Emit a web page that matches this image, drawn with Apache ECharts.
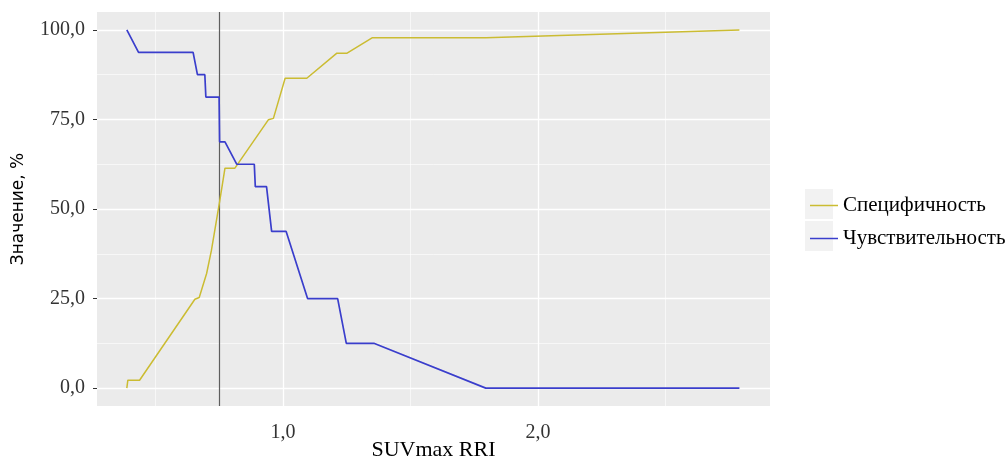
<!DOCTYPE html>
<html>
<head>
<meta charset="utf-8">
<script src="https://cdn.jsdelivr.net/npm/echarts@6/dist/echarts.min.js"></script>
<style>
  html, body { margin: 0; padding: 0; background: #ffffff; }
  #chart { width: 1008px; height: 459px; }
</style>
</head>
<body>
<div id="chart"></div>
<script>
// Threshold (SUVmax RRI) and sensitivity / specificity, %
const sensX = [0.387, 0.433, 0.647, 0.664, 0.693, 0.697, 0.749, 0.751, 0.772, 0.818, 0.887, 0.891, 0.935, 0.955, 1.012, 1.096, 1.214, 1.248, 1.356, 1.795, 2.79];
const sensY = [100, 93.75, 93.75, 87.5, 87.5, 81.25, 81.25, 68.75, 68.75, 62.5, 62.5, 56.25, 56.25, 43.75, 43.75, 25, 25, 12.5, 12.5, 0, 0];

const specX = [0.387, 0.391, 0.437, 0.654, 0.671, 0.700, 0.719, 0.752, 0.772, 0.811, 0.942, 0.962, 1.008, 1.093, 1.211, 1.251, 1.349, 1.795, 2.79];
const specY = [0, 2.2, 2.2, 24.8, 25.3, 32, 38.5, 52.5, 61.4, 61.4, 74.9, 75.3, 86.5, 86.5, 93.5, 93.5, 97.8, 97.8, 100];

const cutoff = 0.75;

const xTicks = [1, 2];
const xMinorGrid = [0.5, 1.5, 2.5];
const yTicks = [0, 25, 50, 75, 100];
const yMinorGrid = [12.5, 37.5, 62.5, 87.5];

const seriesNames = ['Специфичность', 'Чувствительность'];
const colors = ['#CBBC32', '#3A3ECC'];

const fmt = v => v.toFixed(1).replace('.', ',');
const pairs = (xs, ys) => xs.map((x, i) => [x, ys[i]]);

const serif = '"Liberation Serif", "DejaVu Serif", serif';

const gridLines = [].concat(
  xTicks.map(v => ({ xAxis: v, lineStyle: { width: 1.3 } })),
  xMinorGrid.map(v => ({ xAxis: v, lineStyle: { width: 0.6 } })),
  yTicks.map(v => ({ yAxis: v, lineStyle: { width: 1.3 } })),
  yMinorGrid.map(v => ({ yAxis: v, lineStyle: { width: 0.6 } }))
);

const chart = echarts.init(document.getElementById('chart'), null, { renderer: 'canvas' });
chart.setOption({
  animation: false,
  backgroundColor: '#ffffff',
  grid: {
    left: 97, right: 238, top: 12, bottom: 53,
    outerBoundsMode: 'none', containLabel: false,
    show: true, backgroundColor: '#EBEBEB', borderWidth: 0
  },
  xAxis: {
    type: 'value', min: 0.27, max: 2.91,
    name: 'SUVmax RRI', nameLocation: 'middle', nameGap: 33, nameMoveOverlap: false,
    nameTextStyle: { fontFamily: serif, fontSize: 22, color: '#000' },
    axisLine: { show: false },
    axisTick: { show: true, customValues: xTicks, length: 4, lineStyle: { color: '#333', width: 1 } },
    axisLabel: { customValues: xTicks, formatter: fmt, margin: 17, fontFamily: serif, fontSize: 20, color: '#333' },
    splitLine: { show: false }
  },
  yAxis: {
    type: 'value', min: -5, max: 105,
    name: 'Значение, %', nameLocation: 'middle', nameGap: 70, nameRotate: 90, nameMoveOverlap: false,
    nameTextStyle: { fontFamily: '"DejaVu Sans", sans-serif', fontSize: 17, color: '#000' },
    axisLine: { show: false },
    axisTick: { show: true, customValues: yTicks, length: 4, lineStyle: { color: '#333', width: 1 } },
    axisLabel: { customValues: yTicks, formatter: fmt, margin: 12, fontFamily: serif, fontSize: 20, color: '#333' },
    splitLine: { show: false }
  },
  legend: {
    orient: 'vertical', left: 805, top: 190,
    itemWidth: 28, itemHeight: 14, itemGap: 12,
    textStyle: { fontFamily: serif, fontSize: 21, color: '#000' },
    data: seriesNames.map((n, i) => ({
      name: n,
      icon: 'path://M0,0 L28,0 L28,1.5 L0,1.5 Z',
      itemStyle: { color: colors[i], borderWidth: 0 }
    }))
  },
  graphic: [
    { type: 'rect', left: 805, top: 189, shape: { width: 28, height: 30 }, style: { fill: '#F2F2F2' }, z: -1 },
    { type: 'rect', left: 805, top: 221, shape: { width: 28, height: 30 }, style: { fill: '#F2F2F2' }, z: -1 }
  ],
  series: [
    {
      type: 'line', name: 'grid', data: [], z: 1, silent: true,
      markLine: {
        silent: true, symbol: 'none', label: { show: false },
        lineStyle: { color: '#ffffff', type: 'solid' },
        data: gridLines
      }
    },
    {
      type: 'line', name: seriesNames[0], data: pairs(specX, specY),
      symbol: 'none', showSymbol: false, z: 10, color: colors[0],
      itemStyle: { color: colors[0] },
      lineStyle: { color: colors[0], width: 1.5 }
    },
    {
      type: 'line', name: seriesNames[1], data: pairs(sensX, sensY),
      symbol: 'none', showSymbol: false, z: 10, color: colors[1],
      itemStyle: { color: colors[1] },
      lineStyle: { color: colors[1], width: 1.7 }
    },
    {
      type: 'line', name: 'cutoff', data: [], z: 12, silent: true,
      markLine: {
        silent: true, symbol: 'none', label: { show: false },
        lineStyle: { color: '#5E5E5E', type: 'solid', width: 1.2 },
        data: [{ xAxis: cutoff }]
      }
    }
  ]
});
</script>
</body>
</html>
